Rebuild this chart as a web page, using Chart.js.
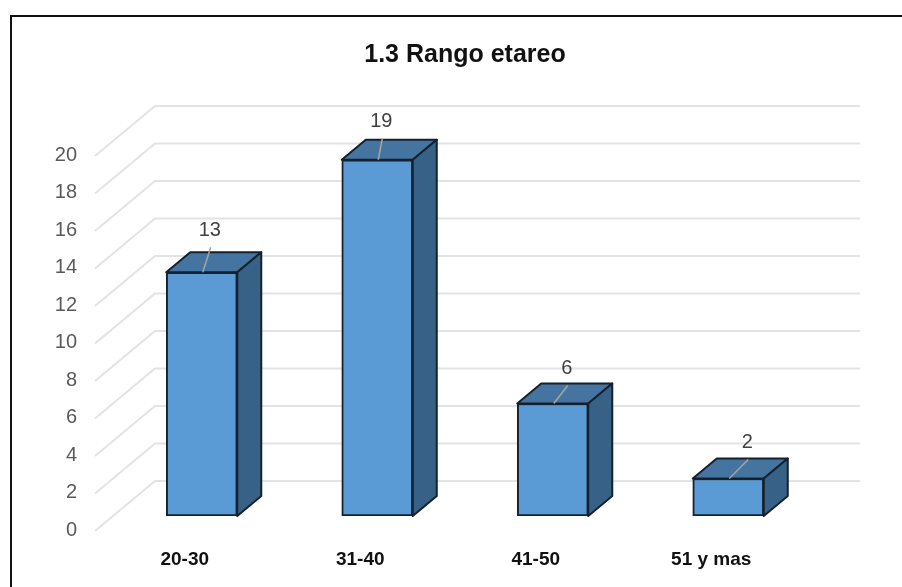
<!DOCTYPE html>
<html lang="es">
<head>
    <meta charset="UTF-8">
    <title>1.3 Rango etareo</title>
    <style>
        html, body { margin: 0; background: #fff; }
        canvas { display: block; }
    </style>
</head>
<body>
    <canvas id="bar" width="902" height="587"></canvas>
    <script src="https://cdn.jsdelivr.net/npm/chart.js@4/dist/chart.umd.min.js"></script>
    <script>
        const categories = ['20-30', '31-40', '41-50', '51 y mas']
        const counts = [13, 19, 6, 2]
        const tickStep = 2
        const axisMax = 20

        // depth of the fake 3d: bars and the back wall
        const barDepth = { x: 24, y: -20 }
        const wallFront = { x: 95, y: 15 }
        const wallBack = { x: 155, y: -35 }
        const wallRight = 860
        // where each value label sits, relative to the bar's front top centre
        const labelDx = [8, 4, 14, 19]
        const labelDy = [-42, -38, -35, -36]

        const frame = {
            id: 'frame',
            beforeDraw(chart) {
                const ctx = chart.ctx
                ctx.save()
                ctx.strokeStyle = '#111'
                ctx.lineWidth = 2
                ctx.beginPath()
                ctx.moveTo(11, 587)
                ctx.lineTo(11, 16)
                ctx.lineTo(902, 16)
                ctx.stroke()
                ctx.restore()
            }
        }

        const wall = {
            id: 'wall',
            beforeDatasetsDraw(chart) {
                const ctx = chart.ctx
                const y = chart.scales.y
                ctx.save()
                ctx.strokeStyle = '#e3e3e3'
                ctx.lineWidth = 2
                y.ticks.forEach(t => {
                    const py = y.getPixelForValue(t.value)
                    ctx.beginPath()
                    ctx.moveTo(wallFront.x, py + wallFront.y)
                    ctx.lineTo(wallBack.x, py + wallBack.y)
                    ctx.lineTo(wallRight, py + wallBack.y)
                    ctx.stroke()
                })
                ctx.restore()
            }
        }

        const box = {
            id: 'box',
            beforeDatasetsDraw(chart) {
                const ctx = chart.ctx
                ctx.save()
                ctx.strokeStyle = '#14212e'
                ctx.lineWidth = 2
                ctx.lineJoin = 'round'
                chart.getDatasetMeta(0).data.forEach(bar => {
                    const left = bar.x - bar.width / 2
                    const right = bar.x + bar.width / 2
                    // top face
                    ctx.fillStyle = '#44749f'
                    ctx.beginPath()
                    ctx.moveTo(left, bar.y)
                    ctx.lineTo(left + barDepth.x, bar.y + barDepth.y)
                    ctx.lineTo(right + barDepth.x, bar.y + barDepth.y)
                    ctx.lineTo(right, bar.y)
                    ctx.closePath()
                    ctx.fill()
                    ctx.stroke()
                    // side face
                    ctx.fillStyle = '#386187'
                    ctx.beginPath()
                    ctx.moveTo(right, bar.y)
                    ctx.lineTo(right + barDepth.x, bar.y + barDepth.y)
                    ctx.lineTo(right + barDepth.x, bar.base + barDepth.y)
                    ctx.lineTo(right, bar.base)
                    ctx.closePath()
                    ctx.fill()
                    ctx.stroke()
                })
                ctx.restore()
            },
            afterDatasetsDraw(chart) {
                const ctx = chart.ctx
                ctx.save()
                ctx.textAlign = 'center'
                ctx.textBaseline = 'middle'
                ctx.font = '20px "Liberation Sans", sans-serif'
                chart.getDatasetMeta(0).data.forEach((bar, i) => {
                    const lx = bar.x + labelDx[i]
                    const ly = bar.y + labelDy[i]
                    ctx.strokeStyle = '#a6a6a6'
                    ctx.lineWidth = 1.5
                    ctx.beginPath()
                    ctx.moveTo(bar.x + 1, bar.y)
                    ctx.lineTo(lx + 1, ly + 17)
                    ctx.stroke()
                    ctx.fillStyle = '#404040'
                    ctx.fillText(counts[i], lx, ly)
                })
                ctx.restore()
            }
        }

        const barChart = new Chart(document.getElementById('bar'), {
            type: 'bar',
            data: {
                labels: categories,
                datasets: [{
                    data: counts,
                    backgroundColor: '#5b9bd5',
                    borderColor: '#14212e',
                    borderWidth: 2,
                    borderSkipped: false,
                    barThickness: 71
                }]
            },
            plugins: [frame, wall, box],
            options: {
                responsive: false,
                animation: false,
                layout: { padding: { top: 40, left: 0, right: 86, bottom: 6 } },
                plugins: {
                    legend: { display: false },
                    tooltip: { enabled: false },
                    title: {
                        display: true,
                        text: '1.3 Rango etareo',
                        fullSize: false,
                        color: '#111',
                        font: { family: '"Liberation Sans"', size: 25, weight: 'bold' },
                        padding: { top: 0, bottom: 71 }
                    }
                },
                scales: {
                    x: {
                        grid: { display: false },
                        border: { display: false },
                        afterFit(scale) { scale.height = 65 },
                        ticks: {
                            color: '#111',
                            padding: 24,
                            labelOffset: -17,
                            font: { family: '"Liberation Sans"', size: 19, weight: 'bold' }
                        }
                    },
                    y: {
                        min: 0,
                        max: axisMax,
                        grid: { display: false, drawTicks: false },
                        border: { display: false },
                        afterFit(scale) { scale.width = 114 },
                        ticks: {
                            stepSize: tickStep,
                            color: '#595959',
                            padding: 37,
                            labelOffset: 14,
                            font: { family: '"Liberation Sans"', size: 20 }
                        }
                    }
                }
            }
        })
    </script>
</body>
</html>
